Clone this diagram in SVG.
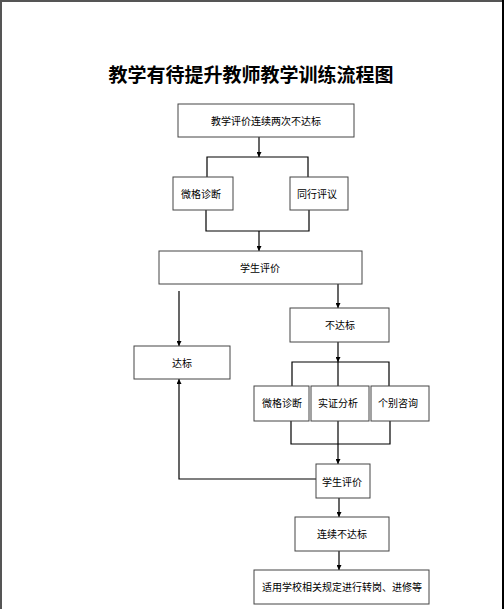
<svg xmlns="http://www.w3.org/2000/svg" width="504" height="609" viewBox="0 0 504 609">
<defs>
<style>
.box{fill:#fff;stroke:#444;stroke-width:1}
.ln{fill:none;stroke:#000;stroke-width:1.2}
.arr{fill:none;stroke:#000;stroke-width:1.2;marker-end:url(#ah)}
.t{font-family:"Liberation Serif","Noto Sans CJK SC",serif;font-size:10px;fill:#000;dominant-baseline:central}
.c{text-anchor:middle}
.title{font-family:"Noto Sans CJK SC",sans-serif;font-size:19px;font-weight:bold;text-anchor:middle;fill:#000}
</style>
<marker id="ah" viewBox="0 0 10 10" refX="10" refY="5" markerWidth="5" markerHeight="5" markerUnits="userSpaceOnUse" orient="auto">
<path d="M0,0 L10,5 L0,10 z" fill="#000"/>
</marker>
</defs>
<rect width="504" height="609" fill="#fff"/>
<line x1="1" y1="0" x2="1" y2="609" stroke="#555" stroke-width="2"/>
<line x1="0" y1="1" x2="504" y2="1" stroke="#555" stroke-width="2"/>
<line x1="503" y1="0" x2="503" y2="609" stroke="#000" stroke-width="2"/>
<text class="title" x="251" y="82">教学有待提升教师教学训练流程图</text>
<g id="connectors">
<line class="arr" x1="259" y1="137" x2="259" y2="157"/>
<polyline class="ln" points="207,177 207,157 308,157 308,177"/>
<polyline class="ln" points="206,210 206,231 309,231 309,210"/>
<line class="arr" x1="259" y1="231" x2="259" y2="251"/>
<line class="arr" x1="179" y1="291" x2="179" y2="346"/>
<line class="arr" x1="338" y1="284" x2="338" y2="308"/>
<line class="arr" x1="338" y1="342" x2="338" y2="362"/>
<polyline class="ln" points="292,386 292,362 389,362 389,386"/>
<line class="ln" x1="338" y1="362" x2="338" y2="386"/>
<polyline class="ln" points="291,421 291,444 390,444 390,421"/>
<line class="arr" x1="338" y1="421" x2="338" y2="464"/>
<polyline class="arr" points="316,479 179,479 179,379"/>
<line class="arr" x1="339" y1="498" x2="339" y2="517"/>
<line class="arr" x1="339" y1="551" x2="339" y2="570"/>
</g>
<g id="n1"><rect class="box" x="178" y="104" width="176" height="33"/><text class="t c" x="266" y="121">教学评价连续两次不达标</text></g>
<g id="n2"><rect class="box" x="173" y="177" width="60" height="33"/><text class="t" x="181" y="194">微格诊断</text></g>
<g id="n3"><rect class="box" x="290" y="177" width="58" height="33"/><text class="t" x="297" y="194">同行评议</text></g>
<g id="n4"><rect class="box" x="159" y="251" width="203" height="33"/><text class="t c" x="260" y="268">学生评价</text></g>
<g id="n5"><rect class="box" x="290" y="308" width="99" height="34"/><text class="t c" x="340" y="325">不达标</text></g>
<g id="n6"><rect class="box" x="134" y="346" width="96" height="33"/><text class="t c" x="182" y="363">达标</text></g>
<g id="n7"><rect class="box" x="254" y="386" width="55" height="35"/><text class="t" x="262" y="403">微格诊断</text></g>
<g id="n8"><rect class="box" x="311" y="386" width="58" height="35"/><text class="t" x="318" y="403">实证分析</text></g>
<g id="n9"><rect class="box" x="371" y="386" width="58" height="35"/><text class="t" x="378" y="403">个别咨询</text></g>
<g id="n10"><rect class="box" x="316" y="464" width="54" height="34"/><text class="t c" x="342" y="482">学生评价</text></g>
<g id="n11"><rect class="box" x="295" y="517" width="94" height="34"/><text class="t c" x="342" y="534">连续不达标</text></g>
<g id="n12"><rect class="box" x="254" y="570" width="175" height="34"/><text class="t c" x="342" y="587">适用学校相关规定进行转岗、进修等</text></g>
</svg>
